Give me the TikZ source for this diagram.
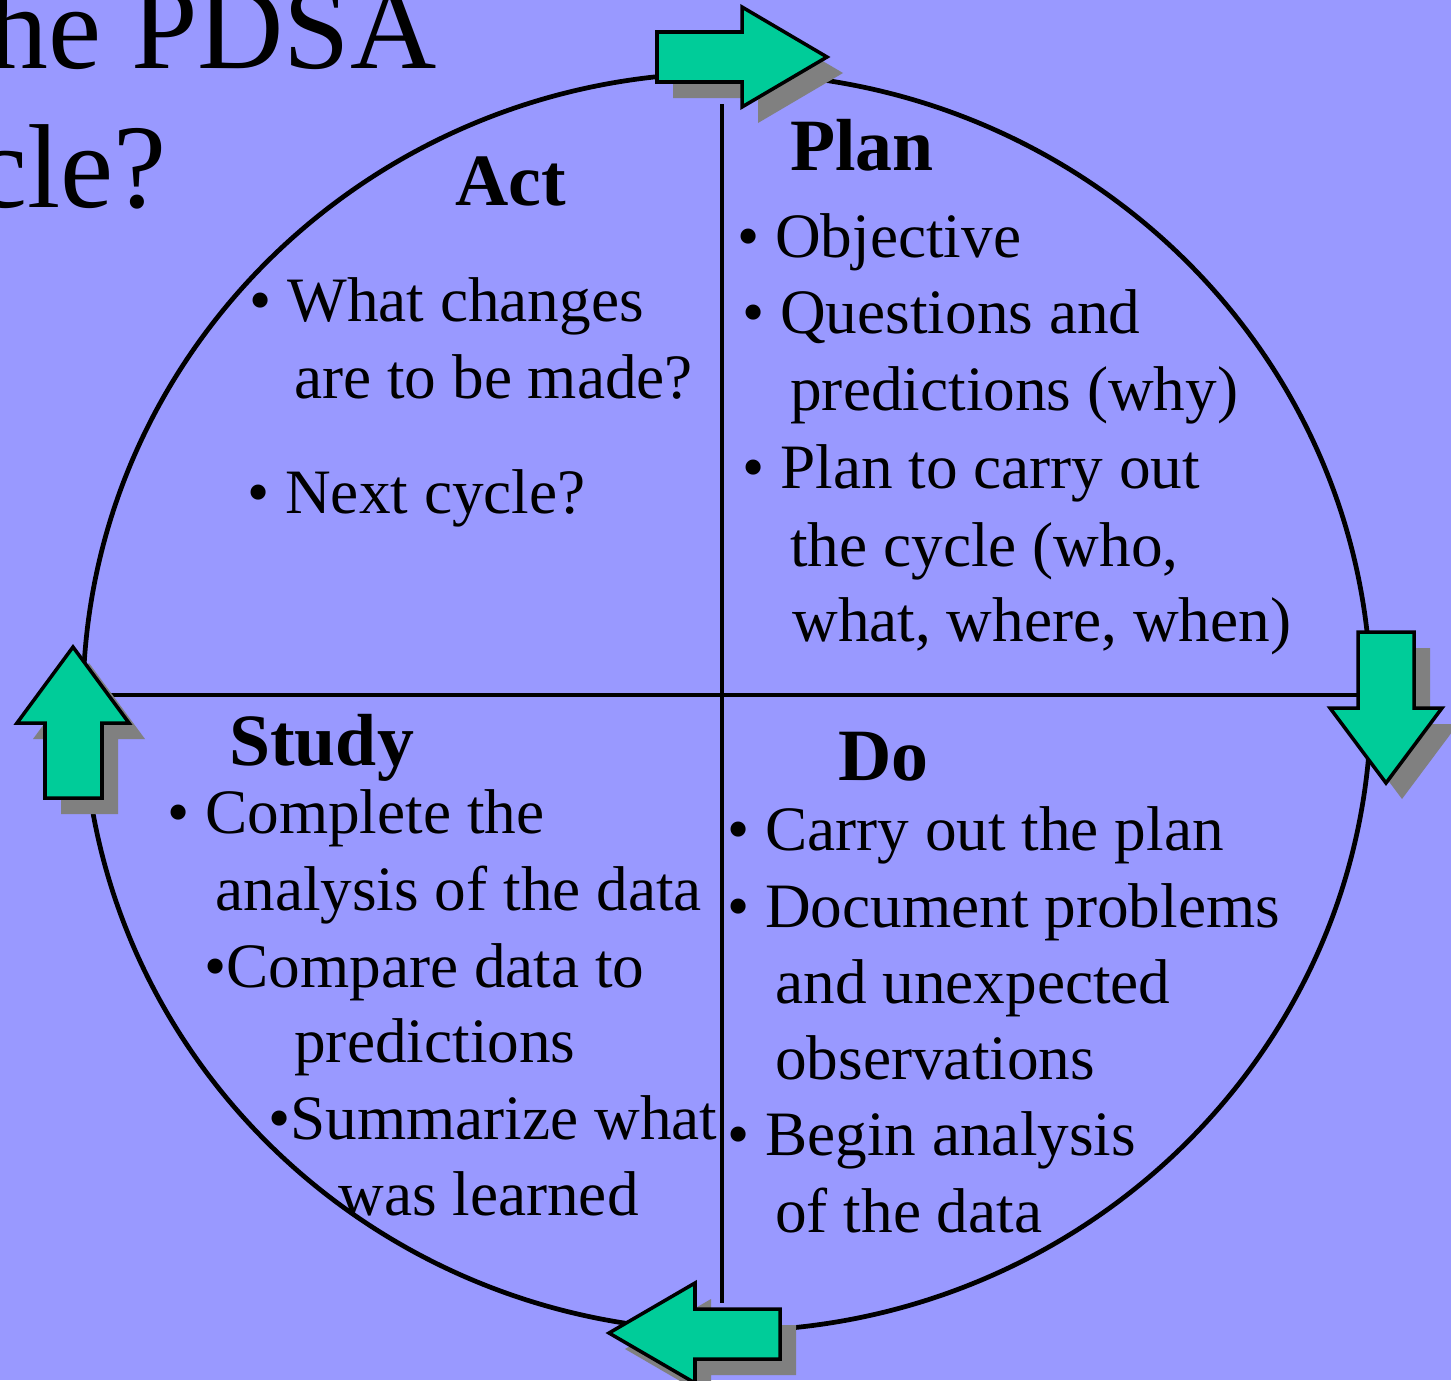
\documentclass[tikz,border=0pt]{standalone}
\usepackage{fontspec}
\setmainfont{Liberation Serif}

\definecolor{slideblue}{HTML}{9999FF}
\definecolor{arrowgreen}{HTML}{00CC99}
\definecolor{shadowgray}{HTML}{808080}

\begin{document}
\begin{tikzpicture}
  [
   x=0.02cm, y=-0.02cm,
   itemtext/.style={anchor=base west,inner sep=0pt,font=\fontsize{36}{43}\selectfont},
   quadhead/.style={anchor=base west,inner sep=0pt,font=\fontsize{42}{50}\selectfont\bfseries},
   slidetitle/.style={anchor=base west,inner sep=0pt,font=\fontsize{68}{82}\selectfont},
   ring/.style={line width=2.7pt},
   divider/.style={line width=2.7pt},
   arrowbox/.style={draw=black,line width=2pt,fill=arrowgreen,line join=miter},
   arrowshadow/.style={fill=shadowgray,shift={(16,16)}}
  ]
   \useasboundingbox (0,0) rectangle (1451,1380);
   \clip (0,0) rectangle (1451,1380);
   \fill[slideblue] (0,0) rectangle (1451,1380);

   % title, cut off by the slide edge
   \node[slidetitle] (t1) at (-45,68)  {the PDSA};
   \node[slidetitle] (t2) at (-139,207) {cycle?};

   % the cycle and its quadrants
   \coordinate (ctr)    at (727,702);
   \coordinate (vtop)   at (722,104);
   \coordinate (vbot)   at (722,1303);
   \coordinate (hleft)  at (83,695);
   \coordinate (hright) at (1371,695);
   \draw[ring] (ctr) ellipse [x radius=644, y radius=629];
   \draw[divider] (vtop) -- (vbot);
   \draw[divider] (hleft) -- (hright);

   % block arrows with their shadows
   \foreach \layer in {arrowshadow,arrowbox}
   {
     \path[\layer] (657,32) -- (742,32) -- (742,7) -- (827,57) -- (742,107) -- (742,82) -- (657,82) -- cycle;
     \path[\layer] (1358,632) -- (1414,632) -- (1414,708) -- (1442,708) -- (1386,783) -- (1330,708) -- (1358,708) -- cycle;
     \path[\layer] (780,1309) -- (695,1309) -- (695,1283) -- (609,1333) -- (695,1383) -- (695,1359) -- (780,1359) -- cycle;
     \path[\layer] (45,798) -- (45,723) -- (17,723) -- (73,647) -- (129,723) -- (102,723) -- (102,798) -- cycle;
   }

   % Plan
   \node[quadhead] (plan)  at (790,170) {Plan};
   \node[itemtext] (plan1) at (737,257) {• Objective};
   \node[itemtext] (plan2) at (742,333) {• Questions and};
   \node[itemtext] (plan3) at (790,410) {predictions (why)};
   \node[itemtext] (plan4) at (742,488) {• Plan to carry out};
   \node[itemtext] (plan5) at (790,566) {the cycle (who,};
   \node[itemtext] (plan6) at (792,641) {what, where, when)};

   % Act
   \node[quadhead] (act)  at (455,205) {Act};
   \node[itemtext] (act1) at (249,321) {• What changes};
   \node[itemtext] (act2) at (294,398) {are to be made?};
   \node[itemtext] (act3) at (247,513) {• Next cycle?};

   % Study
   \node[quadhead] (study)  at (229,765) {Study};
   \node[itemtext] (study1) at (167,833) {• Complete the};
   \node[itemtext] (study2) at (215,910) {analysis of the data};
   \node[itemtext] (study3) at (204,987) {•Compare data to};
   \node[itemtext] (study4) at (294,1062) {predictions};
   \node[itemtext] (study5) at (268,1139) {•Summarize what};
   \node[itemtext] (study6) at (338,1215) {was learned};

   % Do
   \node[quadhead] (do)  at (838,780) {Do};
   \node[itemtext] (do1) at (727,850) {• Carry out the plan};
   \node[itemtext] (do2) at (727,927) {• Document problems};
   \node[itemtext] (do3) at (775,1003) {and unexpected};
   \node[itemtext] (do4) at (775,1079) {observations};
   \node[itemtext] (do5) at (727,1155) {• Begin analysis};
   \node[itemtext] (do6) at (775,1232) {of the data};

\end{tikzpicture}
\end{document}
